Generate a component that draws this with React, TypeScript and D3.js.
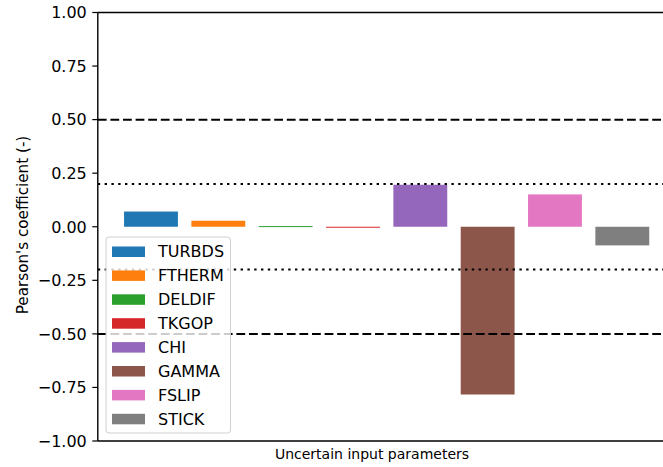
import * as d3 from 'd3';

const parameters = ['TURBDS', 'FTHERM', 'DELDIF', 'TKGOP', 'CHI', 'GAMMA', 'FSLIP', 'STICK'];
const coefficients = [0.071, 0.028, 0.003, -0.003, 0.196, -0.783, 0.151, -0.087];
const barColors = ['#1f77b4', '#ff7f0e', '#2ca02c', '#d62728', '#9467bd', '#8c564b', '#e377c2', '#7f7f7f'];
const yTicks = [1, 0.75, 0.5, 0.25, 0, -0.25, -0.5, -0.75, -1];
const dashedLevels = [0.5, -0.5];
const dottedLevels = [0.2, -0.2];

const W = 663;
const H = 467;
const FONT = '"DejaVu Sans", sans-serif';

export default function App() {
  const left = 97.8;
  const top = 12.5;
  const bottom = 441;
  const right = 675.5;

  // bars at integer positions, matplotlib-like margins
  const x = d3.scaleLinear().domain([-0.79, 7.79]).range([left, right]);
  const y = d3.scaleLinear().domain([-1, 1]).range([bottom, top]);
  const fmt = d3.format('.2f');
  const barW = x(0.8) - x(0);

  return (
    <div style={{ position: 'fixed', left: 0, top: 0 }}>
      <svg width={W} height={H} style={{ display: 'block', background: '#fff', fontFamily: FONT }}>
        <defs>
          <clipPath id="plot">
            <rect x={left} y={top} width={right - left} height={bottom - top} />
          </clipPath>
        </defs>

        {/* bars */}
        <g clipPath="url(#plot)">
          {coefficients.map((v, i) => {
            const y0 = y(Math.max(0, v));
            const y1 = y(Math.min(0, v));
            return (
              <rect
                key={parameters[i]}
                x={x(i) - barW / 2}
                y={y0}
                width={barW}
                height={Math.max(1, y1 - y0)}
                fill={barColors[i]}
              />
            );
          })}
          {dashedLevels.map((lv) => (
            <line key={'d' + lv} x1={left} x2={right} y1={y(lv)} y2={y(lv)}
              stroke="#000" strokeWidth={2} strokeDasharray="8.8,3.8" />
          ))}
          {dottedLevels.map((lv) => (
            <line key={'p' + lv} x1={left} x2={right} y1={y(lv)} y2={y(lv)}
              stroke="#000" strokeWidth={2} strokeDasharray="2.4,4.4" />
          ))}
        </g>

        {/* spines */}
        <line x1={left} x2={W} y1={top} y2={top} stroke="#000" strokeWidth={1.4} />
        <line x1={left} x2={W} y1={bottom} y2={bottom} stroke="#000" strokeWidth={1.6} />
        <line x1={left} x2={left} y1={top} y2={bottom} stroke="#000" strokeWidth={1.4} />

        {/* y ticks */}
        {yTicks.map((t) => (
          <g key={t}>
            <line x1={left - 5.5} x2={left} y1={y(t)} y2={y(t)} stroke="#000" strokeWidth={1.2} />
            <text x={left - 11} y={y(t)} dy="0.36em" textAnchor="end" fontSize={16} fill="#000">
              {fmt(t)}
            </text>
          </g>
        ))}

        <text transform="translate(23,225) rotate(-90)" textAnchor="middle" dominantBaseline="central"
          fontSize={15.2} fill="#000">
          Pearson's coefficient (-)
        </text>
        <text x={372} y={459} textAnchor="middle" fontSize={14} fill="#000">
          Uncertain input parameters
        </text>

        {/* legend */}
        <g>
          <rect x={106} y={237} width={124.5} height={196} rx={3} fill="#fff" fillOpacity={0.8}
            stroke="#d0d0d0" strokeWidth={1} />
          {parameters.map((p, i) => {
            const cy = 251.5 + i * 23.9;
            return (
              <g key={p}>
                <rect x={112} y={cy - 5} width={33} height={10.5} fill={barColors[i]} />
                <text x={158} y={cy} dy="0.36em" fontSize={16} fill="#000">{p}</text>
              </g>
            );
          })}
        </g>
      </svg>
    </div>
  );
}
